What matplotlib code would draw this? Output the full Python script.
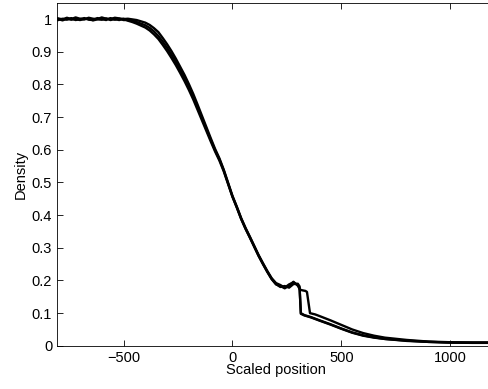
"""Density profiles vs scaled position (three runs overlaid)."""
import matplotlib
matplotlib.use("Agg")
import matplotlib.pyplot as plt

plt.rcParams["font.family"] = ["Liberation Sans", "DejaVu Sans"]

# shared grid for the bulk of the profile
x_grid = [-800, -780, -760, -740, -720, -700, -680, -660, -640, -620,
          -600, -580, -560, -540, -520, -500, -480, -460, -440, -420,
          -400, -380, -360, -340, -320, -300, -280, -260, -240, -220,
          -200, -180, -160, -140, -120, -100, -80, -60, -40, -20,
          0, 20, 40, 60, 80, 100, 120, 140, 160, 180,
          200, 220, 240, 260, 280, 300]

run_a = [1.002, 0.999, 1.004, 1.000, 1.005, 1.001, 0.999, 1.004, 1.001, 1.000,
         1.005, 1.001, 1.000, 1.004, 1.002, 1.000, 1.001, 0.999, 0.997, 0.993,
         0.989, 0.982, 0.972, 0.960, 0.942, 0.923, 0.902, 0.879, 0.854, 0.829,
         0.801, 0.771, 0.738, 0.704, 0.670, 0.636, 0.603, 0.574, 0.539, 0.499,
         0.459, 0.426, 0.391, 0.361, 0.334, 0.306, 0.278, 0.253, 0.229, 0.207,
         0.192, 0.186, 0.178, 0.188, 0.194, 0.186]
run_b = [0.997, 1.001, 0.998, 1.003, 0.997, 1.000, 1.003, 0.998, 0.997, 1.003,
         1.000, 0.997, 1.003, 0.998, 1.001, 0.997, 0.997, 0.995, 0.991, 0.986,
         0.981, 0.973, 0.962, 0.948, 0.931, 0.912, 0.891, 0.869, 0.844, 0.819,
         0.792, 0.762, 0.730, 0.697, 0.664, 0.631, 0.599, 0.571, 0.537, 0.497,
         0.457, 0.424, 0.389, 0.359, 0.332, 0.304, 0.276, 0.251, 0.227, 0.205,
         0.189, 0.180, 0.183, 0.178, 0.189, 0.190]
run_c = [1.000, 0.996, 1.001, 0.998, 1.000, 0.997, 1.000, 1.001, 0.996, 0.999,
         0.998, 1.002, 0.997, 1.000, 0.997, 1.001, 0.995, 0.991, 0.986, 0.980,
         0.974, 0.965, 0.953, 0.939, 0.921, 0.902, 0.881, 0.859, 0.835, 0.810,
         0.783, 0.754, 0.722, 0.690, 0.658, 0.626, 0.595, 0.567, 0.534, 0.495,
         0.456, 0.423, 0.388, 0.358, 0.331, 0.303, 0.275, 0.250, 0.226, 0.204,
         0.188, 0.183, 0.176, 0.184, 0.196, 0.184]

# tails after the step (runs a and b step early, run c late)
tail_early_x = [308, 314, 330, 360, 400, 450, 500, 550, 600, 650,
                700, 800, 900, 1000, 1100, 1200]
tail_a = [0.178, 0.100, 0.094, 0.088, 0.078, 0.066, 0.053, 0.041, 0.032, 0.026,
          0.021, 0.016, 0.012, 0.010, 0.009, 0.009]
tail_b = [0.182, 0.098, 0.093, 0.087, 0.077, 0.065, 0.052, 0.040, 0.031, 0.025,
          0.021, 0.015, 0.012, 0.010, 0.010, 0.010]
tail_late_x = [310, 320, 335, 342, 356, 380, 400, 450, 500, 550,
               600, 650, 700, 800, 900, 1000, 1100, 1200]
tail_c = [0.172, 0.170, 0.168, 0.165, 0.100, 0.096, 0.091, 0.078, 0.064, 0.050,
          0.039, 0.031, 0.025, 0.018, 0.013, 0.011, 0.010, 0.010]

x_ticks = [-500, 0, 500, 1000]
x_labels = ["\u2212500", "0", "500", "1000"]
y_ticks = [0, 0.1, 0.2, 0.3, 0.4, 0.5, 0.6, 0.7, 0.8, 0.9, 1]
y_labels = ["0", "0.1", "0.2", "0.3", "0.4", "0.5", "0.6", "0.7", "0.8", "0.9", "1"]

fig = plt.figure(figsize=(4.88, 3.89), dpi=100)
ax = fig.add_axes([0.117, 0.111, 0.895, 0.882])

for ys, tx, ty in [(run_a, tail_early_x, tail_a),
                   (run_b, tail_early_x, tail_b),
                   (run_c, tail_late_x, tail_c)]:
    ax.plot(x_grid + tx, ys + ty, color="black", lw=1.7)

ax.set_xlim(-805, 1200)
ax.set_ylim(0, 1.05)
ax.set_xticks(x_ticks)
ax.set_xticklabels(x_labels)
ax.set_yticks(y_ticks)
ax.set_yticklabels(y_labels)
ax.tick_params(direction="in", length=4, width=0.6, top=True, right=True,
               labelsize=10.5, pad=3.5)
for s in ax.spines.values():
    s.set_linewidth(0.6)
ax.set_xlabel("Scaled position", fontsize=10.5, labelpad=-1)
ax.set_ylabel("Density", fontsize=10.5, labelpad=3)

fig.savefig("out.png", dpi=100)
